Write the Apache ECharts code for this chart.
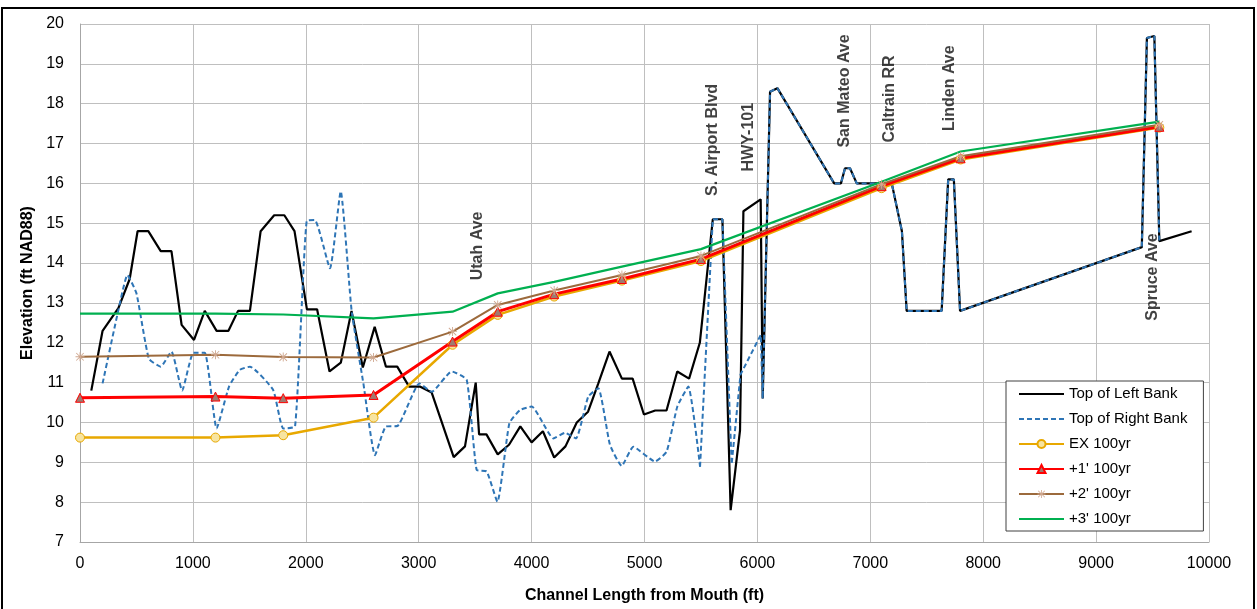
<!DOCTYPE html>
<html>
<head>
<meta charset="utf-8">
<script src="https://cdn.jsdelivr.net/npm/echarts@6/dist/echarts.min.js"></script>
<style>
  html, body { margin: 0; padding: 0; background: #fff; }
  #chart { width: 1257px; height: 609px; }
</style>
</head>
<body>
<div id="chart"></div>
<script>
// ---- Data ----
const xTicks = [0, 1000, 2000, 3000, 4000, 5000, 6000, 7000, 8000, 9000, 10000];
const yTicks = [7, 8, 9, 10, 11, 12, 13, 14, 15, 16, 17, 18, 19, 20];

const leftBank = [
  [100,10.8],[200,12.3],[340,12.87],[440,13.6],[510,14.8],[605,14.8],[715,14.3],[810,14.3],
  [900,12.45],[1010,12.07],[1105,12.8],[1210,12.3],[1315,12.3],[1400,12.8],[1505,12.8],
  [1600,14.8],[1720,15.2],[1810,15.2],[1900,14.8],[2010,12.84],[2100,12.84],[2210,11.28],
  [2310,11.5],[2405,12.8],[2505,11.38],[2610,12.4],[2710,11.4],[2810,11.4],[2915,10.9],
  [3010,10.9],[3115,10.75],[3310,9.13],[3410,9.4],[3505,11.0],[3535,9.7],[3600,9.7],
  [3700,9.2],[3800,9.44],[3900,9.9],[4000,9.5],[4100,9.78],[4200,9.12],[4300,9.4],
  [4400,10.0],[4500,10.27],[4591,10.98],[4690,11.78],[4800,11.1],[4895,11.1],[4995,10.2],
  [5095,10.3],[5195,10.3],[5290,11.28],[5395,11.1],[5490,12.0],[5605,15.1],[5690,15.1],
  [5763,7.8],[5846,9.8],[5876,15.3],[6029,15.6],[6047,10.6],[6112,18.3],[6177,18.39],
  [6680,16.0],[6740,16.0],[6776,16.38],[6820,16.38],[6880,16.0],[7190,16.0],[7280,14.8],
  [7322,12.8],[7632,12.8],[7690,16.1],[7740,16.1],[7795,12.8],[9405,14.4],[9450,19.65],
  [9516,19.7],[9560,14.55],[9846,14.8]
];

// right bank, surveyed (curved) reach
const rightBankLower = [
  [200,10.98],[340,12.82],[420,13.7],[500,13.24],[610,11.6],[715,11.4],[810,11.78],
  [905,10.8],[1005,11.75],[1105,11.75],[1210,9.85],[1320,10.9],[1415,11.32],[1505,11.4],
  [1710,10.82],[1800,9.85],[1905,9.9],[2008,15.06],[2080,15.08],[2214,13.87],[2309,15.8],
  [2406,12.8],[2510,10.98],[2613,9.18],[2710,9.9],[2811,9.91],[3006,10.98],[3115,10.77],
  [3292,11.28],[3425,11.07],[3513,8.81],[3602,8.77],[3697,8.01],[3803,9.98],[3897,10.31],
  [4001,10.4],[4193,9.6],[4296,9.74],[4393,9.6],[4502,10.65],[4591,10.86],[4694,9.44],
  [4798,8.91],[4901,9.39],[5093,9.02],[5196,9.27],[5291,10.4],[5388,10.9],[5492,8.89]
];
// right bank, upstream reach (straight segments)
const rightBankUpper = [
  [5492,8.89],[5605,15.1],[5690,15.1],[5772,8.95],[5850,11.2],[6030,12.2],[6047,10.6],[6112,18.3],
  [6177,18.39],[6680,16.0],[6740,16.0],[6776,16.38],[6820,16.38],[6880,16.0],[7190,16.0],
  [7280,14.8],[7322,12.8],[7632,12.8],[7690,16.1],[7740,16.1],[7795,12.8],[9405,14.4],
  [9450,19.65],[9516,19.7],[9560,14.55]
];

const stations  = [0, 1200, 1800, 2600, 3300, 3700, 4200, 4800, 5500, 7100, 7800, 9560];
const ex100     = [9.62, 9.62, 9.68, 10.12, 11.95, 12.7, 13.16, 13.56, 14.05, 15.88, 16.6, 17.4];
const plus1_100 = [10.62, 10.65, 10.61, 10.69, 12.03, 12.78, 13.22, 13.6, 14.1, 15.93, 16.63, 17.42];
const plus2_100 = [11.65, 11.7, 11.64, 11.63, 12.28, 12.95, 13.31, 13.7, 14.18, 15.98, 16.68, 17.47];
const plus3_100 = [12.73, 12.73, 12.71, 12.61, 12.78, 13.24, 13.53, 13.91, 14.35, 16.04, 16.8, 17.55];

const annotationNames = ['Utah Ave', 'S. Airport Blvd', 'HWY-101', 'San Mateo Ave', 'Caltrain RR', 'Linden Ave', 'Spruce Ave'];
const annotationX = [3525, 5607, 5926, 6776, 7175, 7706, 9504];
const annotationY = [14.43, 17.09, 17.16, 18.32, 18.12, 18.39, 13.65];

const seriesNames = ['Top of Left Bank', 'Top of Right Bank', 'EX 100yr', "+1' 100yr", "+2' 100yr", "+3' 100yr"];

// ---- Chart ----
const pair = (ys) => stations.map((x, i) => [x, ys[i]]);
const FONT = 'Liberation Sans';
const starPath = 'path://M4.5,0h1v10h-1zM0,4.5h10v1H0zM1.2,0.5l8.3,8.3l-0.7,0.7l-8.3-8.3zM8.8,0.5l0.7,0.7l-8.3,8.3l-0.7-0.7z';
const blueLine = { color: '#2e75b6', width: 2, type: [5, 3] };

const chart = echarts.init(document.getElementById('chart'), null, { renderer: 'canvas' });
chart.setOption({
  animation: false,
  backgroundColor: '#ffffff',
  textStyle: { fontFamily: FONT },
  grid: { left: 80, right: 48, top: 24, bottom: 67 },
  graphic: [{
    type: 'rect', silent: true, z: 100,
    shape: { x: 2, y: 8, width: 1252, height: 640 },
    style: { fill: 'none', stroke: '#000', lineWidth: 2 }
  }],
  legend: {
    orient: 'vertical',
    left: 1006, top: 381,
    data: [
      { name: seriesNames[0], itemStyle: { opacity: 0 } },
      { name: seriesNames[1], itemStyle: { opacity: 0 } },
      { name: seriesNames[2] },
      { name: seriesNames[3] },
      { name: seriesNames[4] },
      { name: seriesNames[5], itemStyle: { opacity: 0 } }
    ],
    backgroundColor: '#ffffff',
    borderColor: '#404040', borderWidth: 1,
    padding: [5, 16, 4, 12],
    itemWidth: 45, itemHeight: 10, itemGap: 9,
    textStyle: { fontSize: 15, color: '#000', fontFamily: FONT, lineHeight: 16 }
  },
  xAxis: {
    type: 'value', min: xTicks[0], max: xTicks[xTicks.length - 1], interval: 1000,
    name: 'Channel Length from Mouth (ft)', nameLocation: 'middle', nameGap: 46,
    nameTextStyle: { fontSize: 16, fontWeight: 'bold', color: '#000', fontFamily: FONT },
    axisLine: { show: true, lineStyle: { color: '#a6a6a6', width: 1 } },
    axisTick: { show: false },
    axisLabel: { fontSize: 16, color: '#000', margin: 14, fontFamily: FONT, formatter: (v) => String(v) },
    splitLine: { show: true, lineStyle: { color: '#bfbfbf', width: 1 } }
  },
  yAxis: {
    type: 'value', min: yTicks[0], max: yTicks[yTicks.length - 1], interval: 1,
    name: 'Elevation (ft NAD88)', nameLocation: 'middle', nameGap: 42,
    nameTextStyle: { fontSize: 16, fontWeight: 'bold', color: '#000', fontFamily: FONT },
    axisLine: { show: true, lineStyle: { color: '#a6a6a6', width: 1 } },
    axisTick: { show: false },
    axisLabel: { fontSize: 16, color: '#000', margin: 16, fontFamily: FONT, formatter: (v) => String(v) },
    splitLine: { show: true, lineStyle: { color: '#bfbfbf', width: 1 } }
  },
  series: [
    {
      name: seriesNames[0], type: 'line', data: leftBank,
      symbol: 'none', lineStyle: { color: '#000000', width: 2.2 }, itemStyle: { color: '#000000' }
    },
    {
      name: seriesNames[1], type: 'line', data: rightBankLower, smooth: 0.15,
      symbol: 'none', lineStyle: blueLine, itemStyle: { color: '#2e75b6' }
    },
    {
      name: seriesNames[1], type: 'line', data: rightBankUpper,
      symbol: 'none', lineStyle: blueLine, itemStyle: { color: '#2e75b6' }
    },
    {
      name: seriesNames[2], type: 'line', data: pair(ex100),
      symbol: 'circle', symbolSize: 9,
      lineStyle: { color: '#e8a800', width: 2.5 },
      itemStyle: { color: '#f7e4a0', borderColor: '#e8a800', borderWidth: 1 }
    },
    {
      name: seriesNames[3], type: 'line', data: pair(plus1_100),
      symbol: 'triangle', symbolSize: 9,
      lineStyle: { color: '#ff0000', width: 3 },
      itemStyle: { color: '#a07a70', borderColor: '#ff0000', borderWidth: 1 }
    },
    {
      name: seriesNames[4], type: 'line', data: pair(plus2_100),
      symbol: starPath, symbolSize: 9,
      lineStyle: { color: '#9c6a3c', width: 2 },
      itemStyle: { color: '#d0a890' }
    },
    {
      name: seriesNames[5], type: 'line', data: pair(plus3_100),
      symbol: 'none', lineStyle: { color: '#00b050', width: 2.2 }, itemStyle: { color: '#00b050' }
    },
    {
      name: 'labels', type: 'scatter', symbolSize: 0, silent: true, z: 20,
      data: annotationNames.map((n, i) => ({ name: n, value: [annotationX[i], annotationY[i]] })),
      label: {
        show: true, position: 'inside', rotate: 90,
        formatter: (p) => p.name,
        fontSize: 16, fontWeight: 'bold', color: '#111', fontFamily: FONT
      }
    }
  ]
});
</script>
</body>
</html>
